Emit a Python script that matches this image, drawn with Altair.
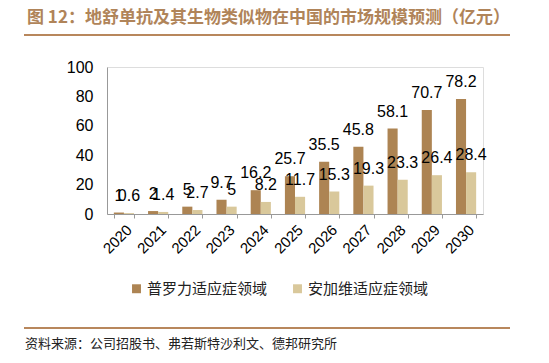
import altair as alt
import pandas as pd

years = ["2020", "2021", "2022", "2023", "2024", "2025", "2026", "2027", "2028", "2029", "2030"]
prolia = [1, 2, 5, 9.7, 16.2, 25.7, 35.5, 45.8, 58.1, 70.7, 78.2]
xgeva = [0.6, 1.4, 2.7, 5, 8.2, 11.7, 15.3, 19.3, 23.3, 26.4, 28.4]
series_names = ["普罗力适应症领域", "安加维适应症领域"]
colors = ["#ad8453", "#d9c89b"]
y_ticks = [0, 20, 40, 60, 80, 100]
title_text = "图 12：地舒单抗及其生物类似物在中国的市场规模预测（亿元）"
source_text = "资料来源：公司招股书、弗若斯特沙利文、德邦研究所"

rows = []
for i, y in enumerate(years):
    rows.append({"year": y, "series": series_names[0], "value": prolia[i]})
    rows.append({"year": y, "series": series_names[1], "value": xgeva[i]})
df = pd.DataFrame(rows)

W, H = 376, 147
LEFT, TOP = 99, 59

x = alt.X("year:N", sort=years, title=None,
          scale=alt.Scale(paddingInner=0.41, paddingOuter=0.2),
          axis=alt.Axis(labelAngle=-45, labelFontSize=15, labelFont="Liberation Sans",
                        labelColor="#000", domainColor="#999", tickColor="#999",
                        tickBand="extent", tickSize=4, labelPadding=4))
y = alt.Y("value:Q", title=None,
          scale=alt.Scale(domain=[0, 100], nice=False),
          axis=alt.Axis(values=y_ticks, grid=False, labelFontSize=16,
                        labelFont="Liberation Sans", labelColor="#000",
                        labelOverlap=False, labelBound=False, labelFlush=False,
                        domainColor="#999", ticks=False, labelPadding=14))
color = alt.Color("series:N", sort=series_names,
                  scale=alt.Scale(domain=series_names, range=colors),
                  legend=alt.Legend(title=None, orient="none", direction="horizontal",
                                    legendX=22, legendY=214, symbolType="square",
                                    symbolSize=80, symbolStrokeWidth=0,
                                    labelFont="Noto Sans CJK SC", labelFontSize=15,
                                    labelColor="#222", columnPadding=22, labelOffset=3))

base = alt.Chart(df).encode(
    x=x,
    y=y,
    xOffset=alt.XOffset("series:N", sort=series_names),
)

bars = base.mark_bar().encode(color=color)
labels = base.mark_text(fontSize=16, font="Liberation Sans", color="#000",
                        baseline="middle", dy=-17).encode(text=alt.Text("value:Q"))

title = alt.Chart(pd.DataFrame({"t": [title_text]})).mark_text(
    align="left", baseline="middle", fontSize=17, fontWeight="bold",
    font="Noto Sans CJK SC", color="#b08459").encode(
    text="t:N", x=alt.value(27 - 8 - LEFT), y=alt.value(18 - 8 - TOP))

source = alt.Chart(pd.DataFrame({"t": [source_text]})).mark_text(
    align="left", baseline="middle", fontSize=13,
    font="Noto Sans CJK SC", color="#222").encode(
    text="t:N", x=alt.value(25 - 8 - LEFT), y=alt.value(344 - 8 - TOP))

line_top = alt.Chart(pd.DataFrame({"a": [0]})).mark_rule(
    color="#b8875c", strokeWidth=2).encode(
    x=alt.value(24 - 8 - LEFT), x2=alt.value(510 - 8 - LEFT), y=alt.value(35 - 8 - TOP))
line_bot = alt.Chart(pd.DataFrame({"a": [0]})).mark_rule(
    color="#b8875c", strokeWidth=2).encode(
    x=alt.value(24 - 8 - LEFT), x2=alt.value(510 - 8 - LEFT), y=alt.value(328 - 8 - TOP))

chart = alt.layer(bars, labels, title, source, line_top, line_bot).properties(
    width=W, height=H,
    autosize=alt.AutoSizeParams(type="none"),
    padding={"left": LEFT, "top": TOP, "right": 549 - 16 - LEFT - W, "bottom": 363 - 16 - TOP - H},
).configure_view(stroke=None).configure(background="white")

chart.save("out.html", embed_options={"renderer": "svg", "actions": False})
